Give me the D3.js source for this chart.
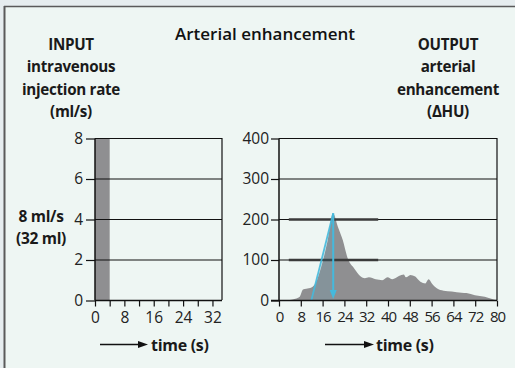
<!DOCTYPE html>
<html><head><meta charset="utf-8">
<script src="https://cdn.jsdelivr.net/npm/d3@7"></script>
<style>
html,body{margin:0;padding:0;background:#e6edef;}
svg{display:block;font-family:"Open Sans",sans-serif;}
</style></head>
<body>
<svg id="c" width="515" height="368"></svg>
<script>
// ---------- data ----------
const title = "Arterial enhancement";
const inputLabel = ["INPUT", "intravenous", "injection rate", "(ml/s)"];
const outputLabel = ["OUTPUT", "arterial", "enhancement", "(ΔHU)"];
const doseLabel = ["8 ml/s", "(32 ml)"];
const timeLabel = "time (s)";

// injection: start (s), end (s), rate (ml/s)
const injStart = [0];
const injEnd = [4];
const injRate = [8];
const inputYTicks = [0, 2, 4, 6, 8];
const inputXTicks = [0, 4, 8, 12, 16, 20, 24, 28, 32];
const inputXLabels = [0, 8, 16, 24, 32];

// arterial enhancement curve (s, HU)
const enhTime = [4, 6, 7.6, 8.8, 10, 11.9, 13.7, 15.5, 17.9, 19.8, 21.6, 23.4, 25.2, 27.6, 30, 31.5, 33, 35.5, 37.9, 39.8, 41.6, 44, 45.8, 46.6, 48.2, 50, 51.9, 53.7, 54.9, 56.1, 57.9, 60.4, 63.4, 67, 68.8, 71.9, 75.5, 78.5, 80];
const enhValue = [0, 3, 8, 26, 28, 31, 45, 82, 148, 214, 181, 148, 103, 78, 58, 54, 56, 51, 49, 56, 51, 59, 63, 56, 62, 58, 45, 41, 51, 41, 29, 23, 21, 18, 17, 12, 8, 2, 0];
const outputYTicks = [0, 100, 200, 300, 400];
const outputXTicks = [0, 8, 16, 24, 32, 40, 48, 56, 64, 72, 80];

// peak-time marker (cyan): rise start and peak
const peakTime = [11.9, 19.9];
const peakValue = [0, 214];

// darker reference segments (HU level, from s, to s)
const refLevel = [100, 200];
const refFrom = [3.6, 3.6];
const refTo = [36.4, 36.4];

// ---------- drawing ----------
const svg = d3.select("#c");
const W = 515, H = 368;
svg.append("rect").attr("x", 0).attr("y", 0).attr("width", W).attr("height", H).attr("fill", "#e6edef");
svg.append("rect").attr("x", 5).attr("y", 7).attr("width", W - 5).attr("height", H - 7).attr("fill", "#eef6f3");
svg.append("line").attr("x1", 4).attr("x2", W).attr("y1", 6.5).attr("y2", 6.5).attr("stroke", "#5a5a5a").attr("stroke-width", 1.5);
svg.append("line").attr("x1", 4.5).attr("x2", 4.5).attr("y1", 6).attr("y2", H).attr("stroke", "#5a5a5a").attr("stroke-width", 2);

const ink = "#111";
const gray = "#8f8f91";

svg.append("text").attr("x", 265).attr("y", 40).attr("text-anchor", "middle")
  .attr("font-size", 17).attr("font-weight", 600).attr("fill", ink).text(title);

function stack(lines, cx, y0) {
  lines.forEach((s, i) => {
    svg.append("text").attr("x", cx).attr("y", y0 + i * 22.3).attr("text-anchor", "middle")
      .attr("font-size", 15.2).attr("font-weight", 700).attr("letter-spacing", -0.3).attr("fill", "#1a1a1a").text(s);
  });
}
stack(inputLabel, 71, 50);
stack(outputLabel, 448, 50);

// ----- left chart -----
const xL = d3.scaleLinear().domain([0, 34.6]).range([95, 222]);
const yL = d3.scaleLinear().domain([0, 8]).range([300, 138]);
const gL = svg.append("g");
gL.selectAll("rect.bar").data(injStart).join("rect")
  .attr("x", (d, i) => xL(injStart[i])).attr("width", (d, i) => xL(injEnd[i]) - xL(injStart[i]))
  .attr("y", (d, i) => yL(injRate[i])).attr("height", (d, i) => yL(0) - yL(injRate[i]))
  .attr("fill", gray);
// gridlines
gL.selectAll("line.grid").data(inputYTicks.filter(v => v > 0)).join("line")
  .attr("x1", xL(0)).attr("x2", xL.range()[1]).attr("y1", d => yL(d) + 0.5).attr("y2", d => yL(d) + 0.5)
  .attr("stroke", ink).attr("stroke-width", 1.2);
gL.append("line").attr("x1", xL.range()[1]).attr("x2", xL.range()[1]).attr("y1", yL(8)).attr("y2", yL(0))
  .attr("stroke", ink).attr("stroke-width", 1.2);
// y axis
const axL = d3.axisLeft(yL).tickValues(inputYTicks).tickSize(9).tickPadding(3).tickFormat(d3.format("d"));
gL.append("g").attr("transform", `translate(${xL(0)},0.5)`).call(axL)
  .call(g => g.select(".domain").attr("stroke", ink).attr("stroke-width", 1.5).attr("d", `M0,${yL(8)}V${yL(0)}`))
  .call(g => g.selectAll("text").attr("font-size", 15.5).attr("fill", "#222").attr("font-family", "Open Sans"))
  .call(g => g.selectAll(".tick line").attr("stroke", ink).attr("stroke-width", 1.2));
// x axis
const axLx = d3.axisBottom(xL).tickValues(inputXTicks).tickSize(6).tickPadding(5)
  .tickFormat(d => inputXLabels.includes(d) ? d : "");
gL.append("g").attr("transform", `translate(0,${yL(0) + 0.5})`).call(axLx)
  .call(g => g.select(".domain").attr("stroke", ink).attr("stroke-width", 1.5).attr("d", `M${xL(0)},0H${xL.range()[1]}`))
  .call(g => g.selectAll("text").attr("font-size", 15.5).attr("fill", "#222").attr("font-family", "Open Sans"))
  .call(g => g.selectAll(".tick line").attr("stroke", ink).attr("stroke-width", 1.2));

doseLabel.forEach((s, i) => {
  svg.append("text").attr("x", 41).attr("y", 222 + i * 21.5).attr("text-anchor", "middle")
    .attr("font-size", 15.5).attr("font-weight", 700).attr("letter-spacing", -0.3).attr("fill", "#1a1a1a").text(s);
});

// ----- right chart -----
const xR = d3.scaleLinear().domain([0, 80]).range([279, 497]);
const yR = d3.scaleLinear().domain([0, 400]).range([300, 138]);
const gR = svg.append("g");
const pts = enhTime.map((t, i) => [t, enhValue[i]]);
const area = d3.area().x(d => xR(d[0])).y0(yR(0)).y1(d => yR(d[1])).curve(d3.curveMonotoneX);
gR.append("path").datum(pts).attr("d", area).attr("fill", gray);
// gridlines
gR.selectAll("line.grid").data(outputYTicks.filter(v => v > 0)).join("line")
  .attr("x1", xR(0)).attr("x2", xR(80)).attr("y1", d => yR(d) + 0.5).attr("y2", d => yR(d) + 0.5)
  .attr("stroke", ink).attr("stroke-width", 1.2);
gR.append("line").attr("x1", xR(80)).attr("x2", xR(80)).attr("y1", yR(400)).attr("y2", yR(0))
  .attr("stroke", ink).attr("stroke-width", 1.2);
// darker reference segments
gR.selectAll("line.ref").data(refLevel).join("line")
  .attr("x1", (d, i) => xR(refFrom[i])).attr("x2", (d, i) => xR(refTo[i]))
  .attr("y1", d => yR(d) + 0.5).attr("y2", d => yR(d) + 0.5)
  .attr("stroke", "#3a3a3a").attr("stroke-width", 2.6);
// cyan peak marker
const cyan = "#45b9dc";
gR.append("path")
  .attr("d", `M${xR(peakTime[0])},${yR(peakValue[0])}L${xR(peakTime[1])},${yR(peakValue[1])}L${xR(peakTime[1])},${yR(0)}Z`)
  .attr("fill", cyan).attr("fill-opacity", 0.12).attr("stroke", "none");
gR.append("path")
  .attr("d", `M${xR(peakTime[0])},${yR(peakValue[0])}L${xR(peakTime[1])},${yR(peakValue[1])}`)
  .attr("stroke", cyan).attr("stroke-width", 1.8).attr("fill", "none").attr("stroke-opacity", 0.9);
gR.append("line").attr("x1", xR(peakTime[1])).attr("x2", xR(peakTime[1]))
  .attr("y1", yR(peakValue[1])).attr("y2", yR(0) - 7)
  .attr("stroke", cyan).attr("stroke-width", 2);
const ax = xR(peakTime[1]), ay = yR(0) - 1;
gR.append("path").attr("d", `M${ax - 3.5},${ay - 9}L${ax + 3.5},${ay - 9}L${ax},${ay}Z`).attr("fill", cyan);
// y axis
const axR = d3.axisLeft(yR).tickValues(outputYTicks).tickSize(8).tickPadding(2).tickFormat(d3.format("d"));
gR.append("g").attr("transform", `translate(${xR(0)},0.5)`).call(axR)
  .call(g => g.select(".domain").attr("stroke", ink).attr("stroke-width", 1.5).attr("d", `M0,${yR(400)}V${yR(0)}`))
  .call(g => g.selectAll("text").attr("font-size", 15.5).attr("fill", "#222").attr("font-family", "Open Sans"))
  .call(g => g.selectAll(".tick line").attr("stroke", ink).attr("stroke-width", 1.2));
// x axis
const axRx = d3.axisBottom(xR).tickValues(outputXTicks).tickSize(6).tickPadding(5).tickFormat(d3.format("d"));
gR.append("g").attr("transform", `translate(0,${yR(0) + 0.5})`).call(axRx)
  .call(g => g.select(".domain").attr("stroke", ink).attr("stroke-width", 1.5).attr("d", `M${xR(0) - 8},0H${xR(80)}`))
  .call(g => g.selectAll("text").attr("font-size", 15).attr("letter-spacing", -1).attr("fill", "#222").attr("font-family", "Open Sans"))
  .call(g => g.selectAll(".tick line").attr("stroke", ink).attr("stroke-width", 1.2));

// time arrows
function timeArrow(x0, x1, y, tx) {
  svg.append("line").attr("x1", x0).attr("x2", x1 - 8).attr("y1", y).attr("y2", y).attr("stroke", ink).attr("stroke-width", 1.3);
  svg.append("path").attr("d", `M${x1 - 10},${y - 3.5}L${x1},${y}L${x1 - 10},${y + 3.5}Z`).attr("fill", ink);
  svg.append("text").attr("x", tx).attr("y", y + 6).attr("font-size", 16).attr("font-weight", 700)
    .attr("letter-spacing", -0.3).attr("fill", "#1a1a1a").text(timeLabel);
}
timeArrow(100, 148, 344.5, 151);
timeArrow(325, 374, 344.5, 376);
</script>
</body></html>
